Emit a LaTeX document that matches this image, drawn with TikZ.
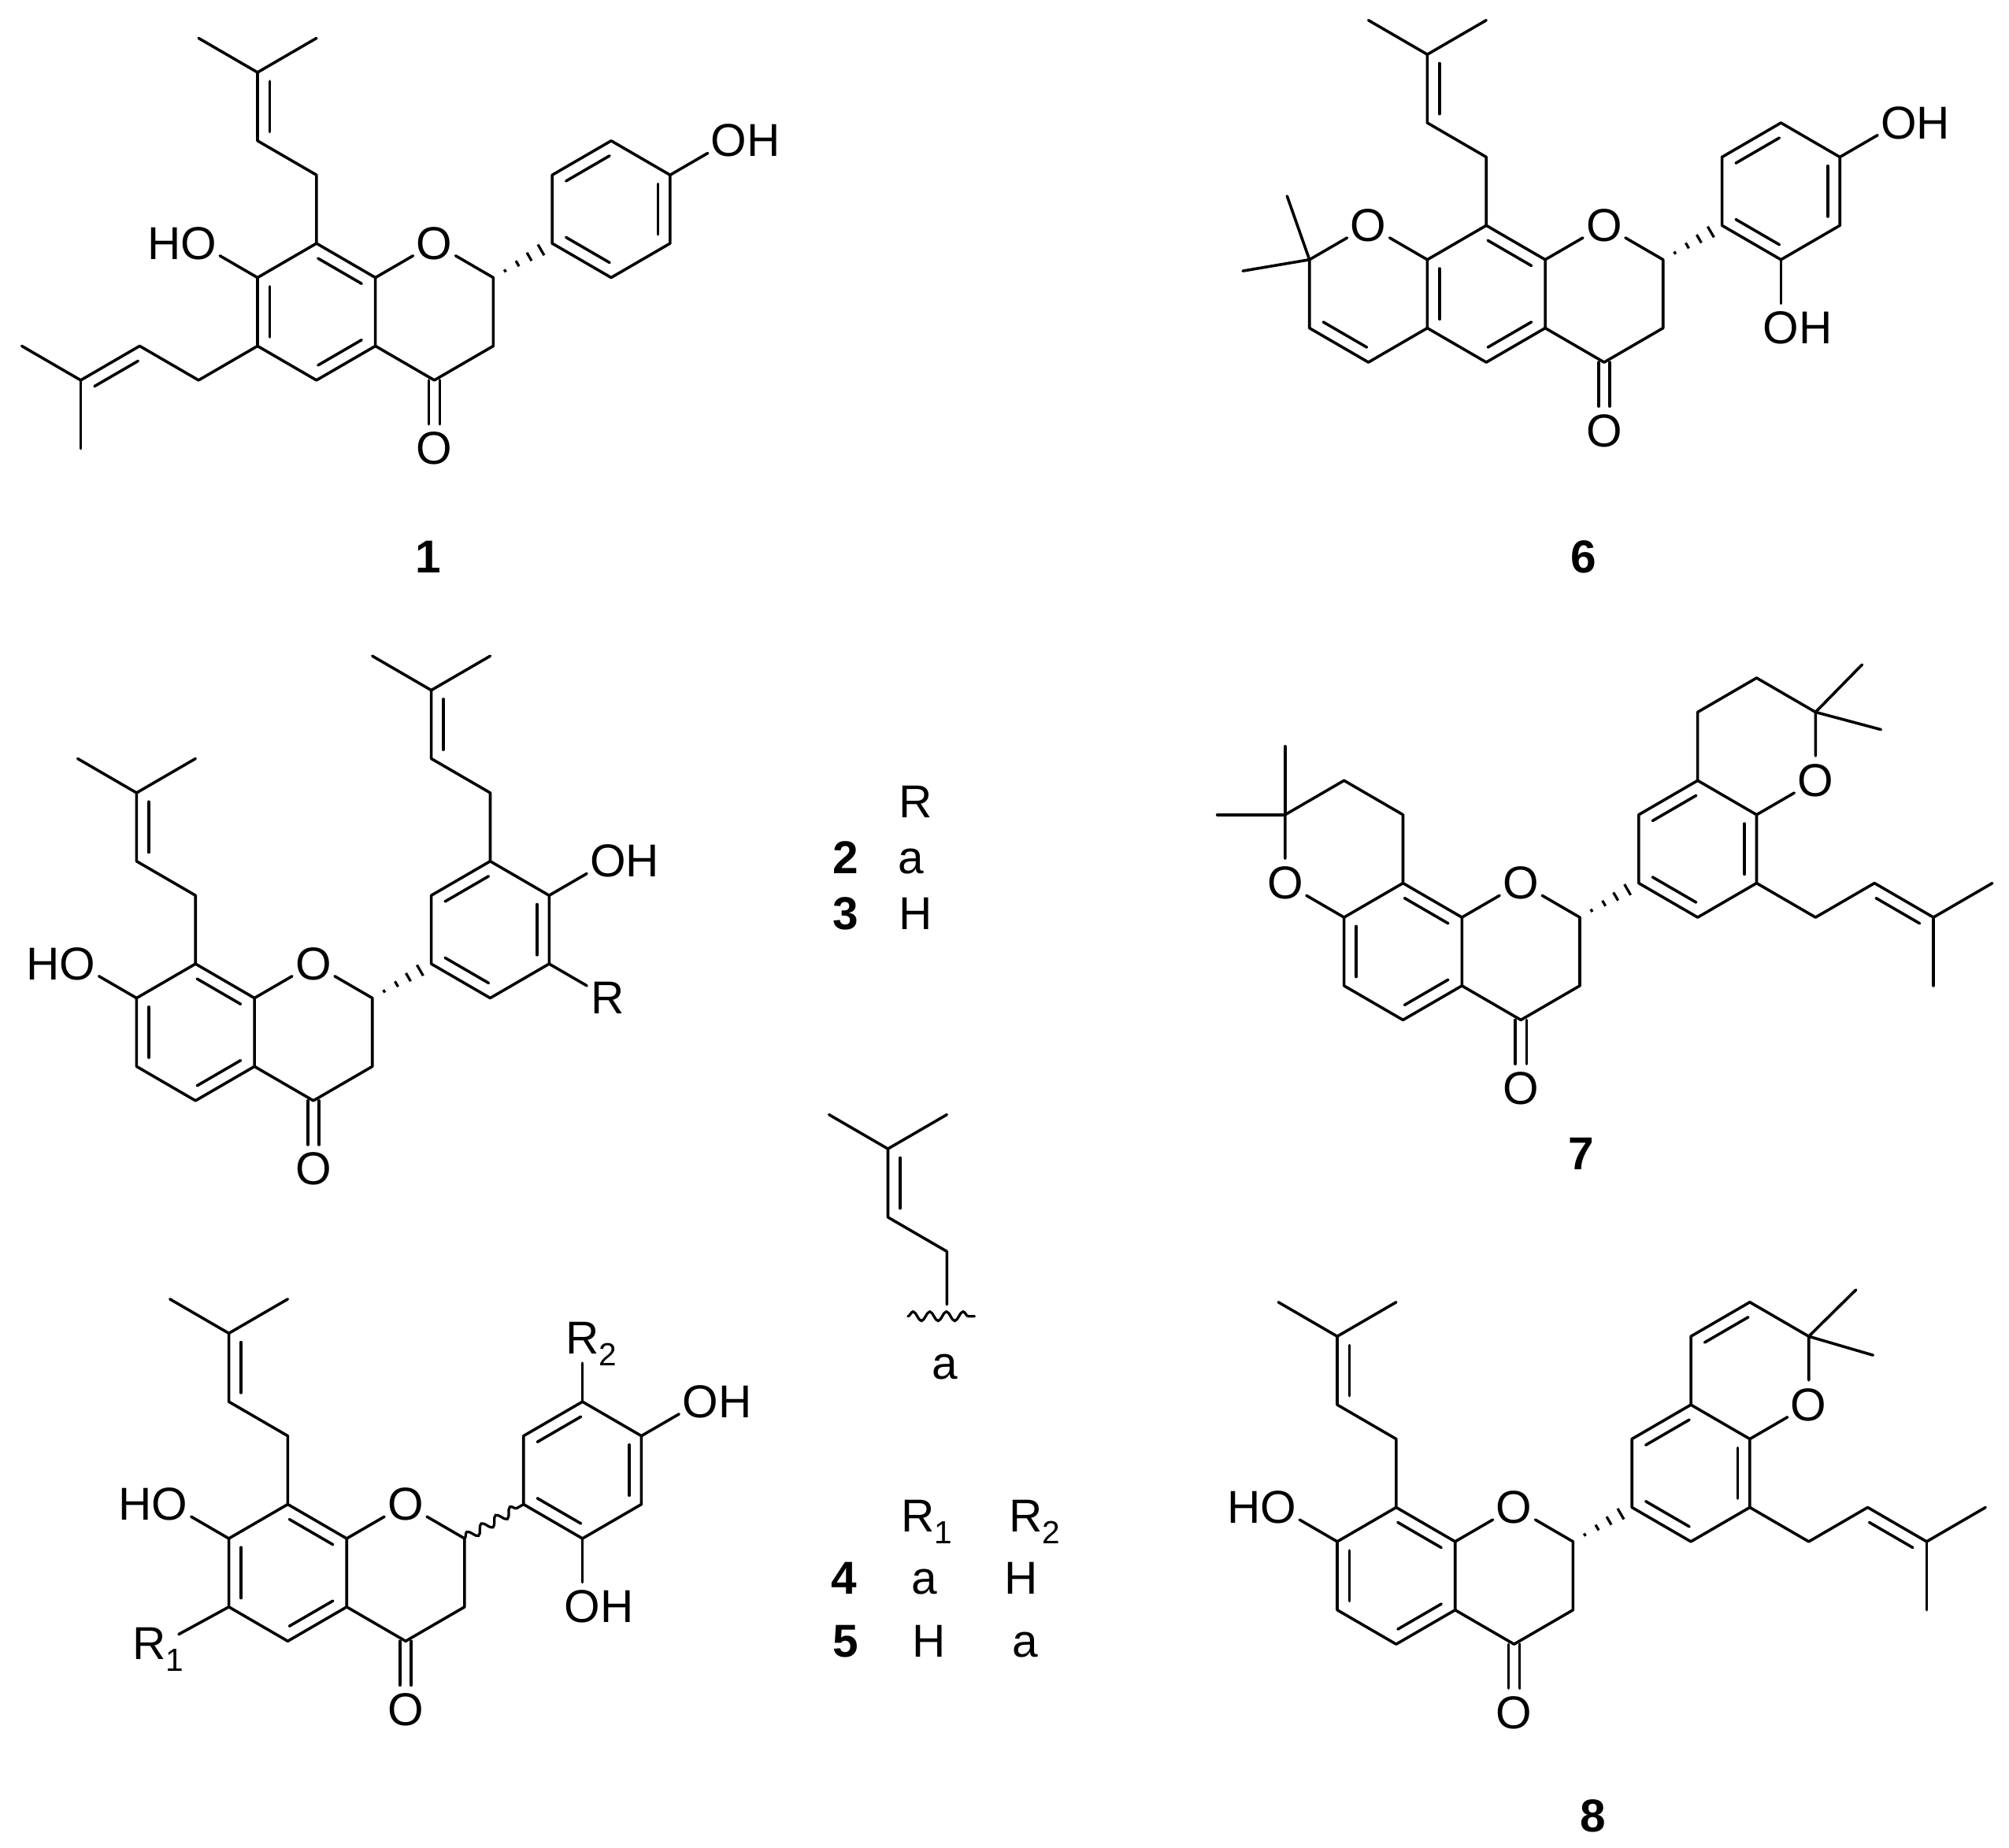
\documentclass[tikz,border=0pt]{standalone}
\usepackage{fontspec}
\setmainfont{Liberation Sans}
\usetikzlibrary{calc,decorations.pathmorphing}
\tikzset{
  bondline/.style={line width=2.2pt,line cap=round,line join=round,black},
  atom/.style={circle,minimum size=38pt,inner sep=0pt,font=\fontsize{36}{40}\selectfont},
  txt/.style={anchor=base,inner sep=0pt,font=\fontsize{36}{40}\selectfont},
  num/.style={anchor=base,inner sep=0pt,font=\fontsize{36}{40}\selectfont\bfseries},
  lat/.style={shift={#1},x=46pt,y=-26.7pt},
  wavy/.style={line width=2pt,line cap=round,decorate,decoration={snake,segment length=13pt,amplitude=3.6pt}}
}
\newcommand{\OHlab}{O\rlap{H}}
\newcommand{\HOlab}{\llap{H}O}
\newcommand{\subn}[1]{\rlap{\smash{\raisebox{-9pt}{\fontsize{25}{25}\selectfont #1}}}}
% inner line of a double bond
\newcommand{\dbl}[3]{\draw[bondline] ($(#1)!.13!(#2)!9.5pt!#3:(#2)$) -- ($(#1)!.87!(#2)!9.5pt!#3:(#2)$);}
% hashed stereo bond
\newcommand{\hashb}[2]{\foreach \t in {.2,.41,.61,.81}{%
  \pgfmathsetmacro{\hw}{\t*6}%
  \draw[line width=2pt,black] ($(#1)!\t!(#2)!\hw pt!90:(#2)$) -- ($(#1)!\t!(#2)!\hw pt!-90:(#2)$);}}
% flavanone core + ring B
\newcommand{\core}[1]{%
  \foreach \n/\i/\j in {c8/0/0,c8a/1/1,c4a/1/3,c5/0/4,c6/-1/3,c7/-1/1,c2/3/1,c3/3/3,c4/2/4,b1/4/0,b2/4/-2,b3/5/-3,b4/6/-2,b5/6/0,b6/5/1}{\coordinate (#1\n) at (\i,\j);}
  \node[atom] (#1o1) at (2,0) {O};
  \node[atom] (#1o4) at (2,6) {O};
  \draw[bondline] (#1c8)--(#1c8a)--(#1c4a)--(#1c5)--(#1c6)--(#1c7)--cycle;
  \draw[bondline] (#1c8a)--(#1o1)--(#1c2)--(#1c3)--(#1c4)--(#1c4a);
  \draw[bondline] (#1b1)--(#1b2)--(#1b3)--(#1b4)--(#1b5)--(#1b6)--cycle;
  \draw[bondline] ([xshift=4.4pt]#1c4)--([xshift=4.4pt,yshift=19pt]#1o4.center);
  \draw[bondline] ([xshift=-4.4pt]#1c4)--([xshift=-4.4pt,yshift=19pt]#1o4.center);
  \dbl{#1c8}{#1c8a}{-90}\dbl{#1c4a}{#1c5}{-90}
  \dbl{#1b4}{#1b5}{-90}\dbl{#1b6}{#1b1}{-90}\dbl{#1b2}{#1b3}{-90}
}
% prenyl chain: #1 prefix, #2 attachment atom, #3..: ch2, ch=, c, me, me lattice points
\newcommand{\prenylv}[7]{%
  \coordinate (#1p1) at (#3); \coordinate (#1p2) at (#4); \coordinate (#1p3) at (#5);
  \coordinate (#1m1) at (#6); \coordinate (#1m2) at (#7);
  \draw[bondline] (#2)--(#1p1)--(#1p2)--(#1p3)--(#1m1);
  \draw[bondline] (#1p3)--(#1m2);
}
\begin{document}
\begin{tikzpicture}[x=1pt,y=-1pt]
\useasboundingbox (0,0) rectangle (1568,1442.6);

% ---------- 1 ----------
\begin{scope}[lat={(247,190)}]
  \core{a}
  \hashb{ac2}{ab1}
  \dbl{ac6}{ac7}{-90}
  \node[atom] (aoh7) at (-2,0) {\HOlab};
  \draw[bondline] (ac7)--(aoh7);
  \node[atom] (aoh4) at (7,-3) {\OHlab};
  \draw[bondline] (ab4)--(aoh4);
  \prenylv{ax}{ac8}{0,-2}{-1,-3}{-1,-5}{-2,-6}{0,-6}
  \dbl{axp3}{axp2}{90}
  \prenylv{ay}{ac6}{-2,4}{-3,3}{-4,4}{-5,3}{-4,6}
  \dbl{ayp2}{ayp3}{90}
\end{scope}
\node[num] (n1) at (334,447) {1};

% ---------- 2/3 ----------
\begin{scope}[lat={(152.6,752.4)}]
  \core{b}
  \hashb{bc2}{bb1}
  \dbl{bc6}{bc7}{-90}
  \node[atom] (boh7) at (-2,0) {\HOlab};
  \draw[bondline] (bc7)--(boh7);
  \node[atom] (boh4) at (7,-3) {\OHlab};
  \draw[bondline] (bb4)--(boh4);
  \node[atom] (bR) at (7,1) {R};
  \draw[bondline] (bb5)--(bR);
  \prenylv{bx}{bc8}{0,-2}{-1,-3}{-1,-5}{-2,-6}{0,-6}
  \dbl{bxp3}{bxp2}{90}
  \prenylv{by}{bb3}{5,-5}{4,-6}{4,-8}{3,-9}{5,-9}
  \dbl{byp3}{byp2}{90}
\end{scope}
\node[txt] (t23r) at (714.5,638.3) {R};
\node[num] (n2) at (660,682) {2};
\node[txt] (t2a) at (711,682) {a};
\node[num] (n3) at (660,725.5) {3};
\node[txt] (t3h) at (714.5,725.5) {H};

% ---------- fragment a ----------
\begin{scope}[lat={(693,896.8)}]
  \coordinate (fc) at (0,0); \coordinate (fd) at (0,2); \coordinate (fe) at (1,3);
  \coordinate (fme1) at (-1,-1); \coordinate (fme2) at (1,-1); \coordinate (fz) at (1,4.55);
  \draw[bondline] (fme1)--(fc)--(fd)--(fe)--(fz);
  \draw[bondline] (fc)--(fme2);
  \dbl{fc}{fd}{90}
\end{scope}
\coordinate (fw1) at (708.6,1027.5); \coordinate (fw2) at (760.6,1027.5);
\draw[wavy] (fw1)--(fw2);
\node[txt] (ta) at (737.7,1076.7) {a};

% ---------- 4/5 ----------
\begin{scope}[lat={(224.6,1174.3)}]
  \core{d}
  \draw[wavy] (dc2)--(db1);
  \dbl{dc6}{dc7}{-90}
  \node[atom] (doh7) at (-2,0) {\HOlab};
  \draw[bondline] (dc7)--(doh7);
  \node[atom] (doh4) at (7,-3) {\OHlab};
  \draw[bondline] (db4)--(doh4);
  \node[atom] (doh2) at (5,3) {\OHlab};
  \draw[bondline] (db6)--(doh2);
  \node[atom] (dR2) at (5,-4.85) {R\subn{2}};
  \draw[bondline] (db3)--(dR2);
  \node[atom,minimum size=10pt] (dR1) at (-2.35,4.08) {R\subn{1}};
  \coordinate (dR1e) at (-1.85,3.8);
  \draw[bondline] (dc6)--(dR1e);
  \prenylv{dx}{dc8}{0,-2}{-1,-3}{-1,-5}{-2,-6}{0,-6}
  \dbl{dxp3}{dxp2}{90}
\end{scope}
\node[txt] (t45r1) at (716.3,1196) {R\subn{1}};
\node[txt] (t45r2) at (800.4,1196) {R\subn{2}};
\node[num] (n4) at (658.7,1244.6) {4};
\node[txt] (t4a) at (721.4,1244.6) {a};
\node[txt] (t4h) at (796.9,1244.6) {H};
\node[num] (n5) at (660.3,1293.4) {5};
\node[txt] (t5h) at (725,1293.4) {H};
\node[txt] (t5a) at (800.4,1293.4) {a};

% ---------- 6 ----------
\begin{scope}[lat={(1160,176)}]
  \core{e}
  \hashb{ec2}{eb1}
  \dbl{ec6}{ec7}{-90}
  \node[atom] (eo8) at (-2,0) {O};
  \coordinate (eg) at (-3,1); \coordinate (eh) at (-3,3); \coordinate (ei) at (-2,4);
  \coordinate (eme1) at (-3.38,-.86); \coordinate (eme2) at (-4.13,1.33);
  \draw[bondline] (ec7)--(eo8)--(eg)--(eh)--(ei)--(ec6);
  \draw[bondline] (eme1)--(eg)--(eme2);
  \dbl{eh}{ei}{90}
  \node[atom] (eoh4) at (7,-3) {\OHlab};
  \draw[bondline] (eb4)--(eoh4);
  \node[atom] (eoh2) at (5,3) {\OHlab};
  \draw[bondline] (eb6)--(eoh2);
  \prenylv{ex}{ec8}{0,-2}{-1,-3}{-1,-5}{-2,-6}{0,-6}
  \dbl{exp3}{exp2}{90}
\end{scope}
\node[num] (n6) at (1236,447) {6};

% ---------- 7 ----------
\begin{scope}[lat={(1095,689.4)}]
  \core{g}
  \hashb{gc2}{gb1}
  \dbl{gc6}{gc7}{-90}
  \node[atom] (go8) at (-2,0) {O};
  \coordinate (gg) at (0,-2); \coordinate (gh) at (-1,-3); \coordinate (gi) at (-2,-2);
  \coordinate (gme1) at (-2,-4); \coordinate (gme2) at (-3.15,-2);
  \draw[bondline] (gc7)--(go8)--(gi)--(gh)--(gg)--(gc8);
  \draw[bondline] (gme1)--(gi)--(gme2);
  \node[atom] (go2) at (7,-3) {O};
  \coordinate (gj) at (5,-5); \coordinate (gk) at (6,-6); \coordinate (gl) at (7,-5);
  \coordinate (gme3) at (7.79,-6.39); \coordinate (gme4) at (8.11,-4.49);
  \draw[bondline] (gb4)--(go2)--(gl)--(gk)--(gj)--(gb3);
  \draw[bondline] (gme3)--(gl)--(gme4);
  \prenylv{gx}{gb5}{7,1}{8,0}{9,1}{10,0}{9,3}
  \dbl{gxp2}{gxp3}{-90}
\end{scope}
\node[num] (n7) at (1234,912.9) {7};

% ---------- 8 ----------
\begin{scope}[lat={(1089.7,1176.7)}]
  \core{h}
  \hashb{hc2}{hb1}
  \dbl{hc6}{hc7}{-90}
  \node[atom] (hoh7) at (-2,0) {\HOlab};
  \draw[bondline] (hc7)--(hoh7);
  \prenylv{hw}{hc8}{0,-2}{-1,-3}{-1,-5}{-2,-6}{0,-6}
  \dbl{hwp3}{hwp2}{90}
  \node[atom] (ho2) at (7,-3) {O};
  \coordinate (hj) at (5,-5); \coordinate (hk) at (6,-6); \coordinate (hl) at (7,-5);
  \coordinate (hme3) at (7.8,-6.36); \coordinate (hme4) at (8.09,-4.45);
  \draw[bondline] (hb4)--(ho2)--(hl)--(hk)--(hj)--(hb3);
  \draw[bondline] (hme3)--(hl)--(hme4);
  \dbl{hj}{hk}{-90}
  \prenylv{hx}{hb5}{7,1}{8,0}{9,1}{10,0}{9,3}
  \dbl{hxp2}{hxp3}{-90}
\end{scope}
\node[num] (n8) at (1243.4,1429.9) {8};
\end{tikzpicture}
\end{document}
